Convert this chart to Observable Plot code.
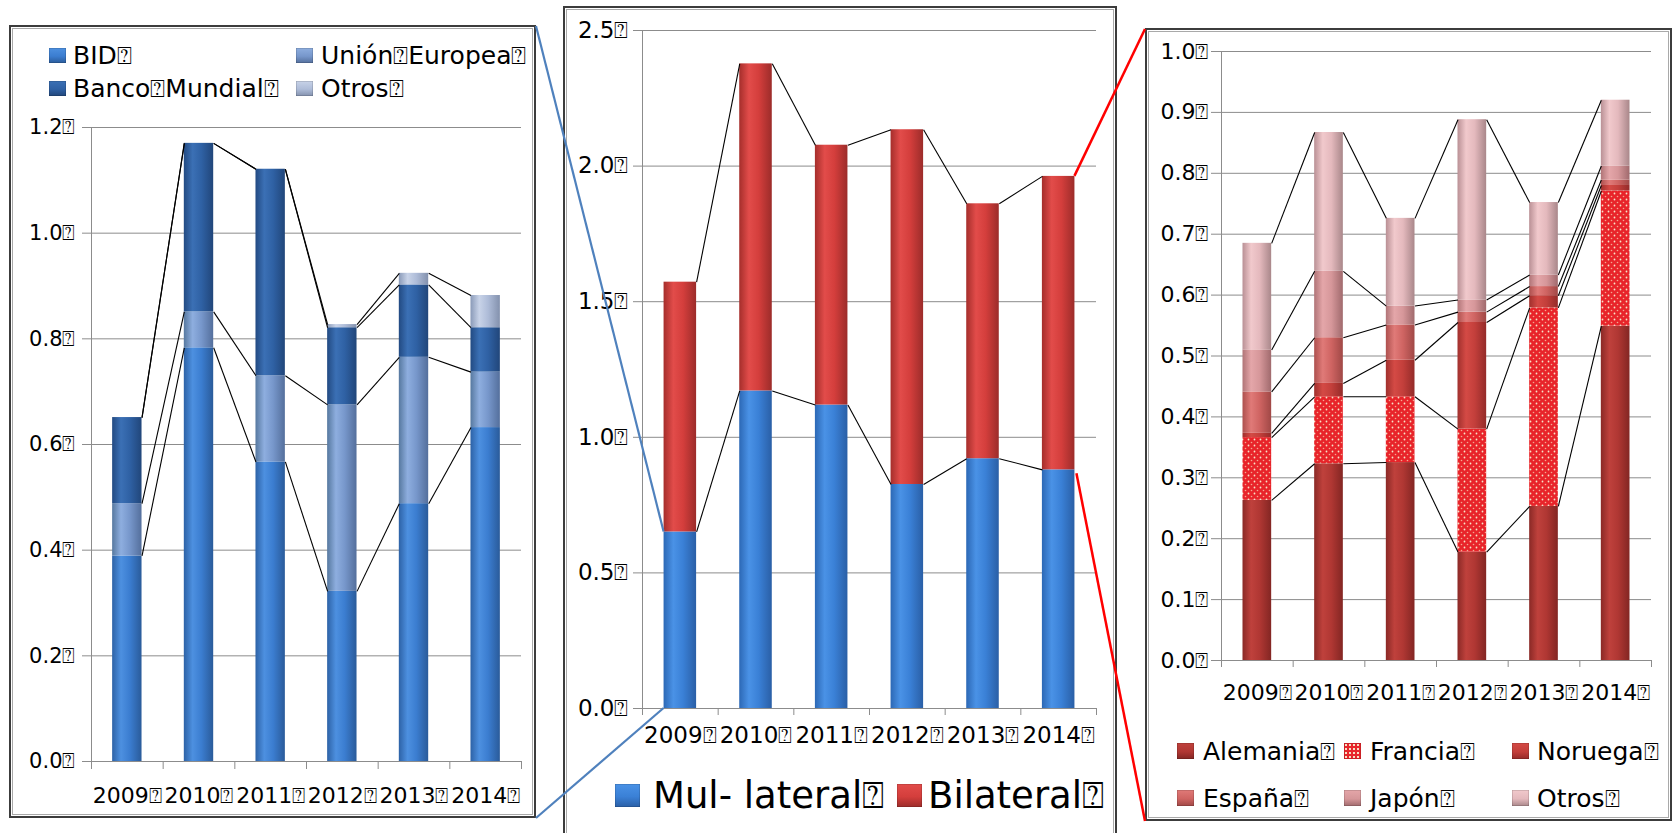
<!DOCTYPE html>
<html>
<head>
<meta charset="utf-8">
<script src="https://cdn.jsdelivr.net/npm/d3@7"></script>
<script src="https://cdn.jsdelivr.net/npm/@observablehq/plot@0.6"></script>
<style>
  body { margin: 0; background: #fff; font-family: 'DejaVu Sans', sans-serif; }
  #page { position: relative; width: 1675px; height: 833px; overflow: hidden; background: #fff; }
  .box { position: absolute; box-sizing: border-box; border: 2px solid #3c3c3c;
         box-shadow: inset 0 0 0 1px #fff, inset 0 0 0 2px #a9a9a9; }
  .abs { position: absolute; }
  .txt { position: absolute; white-space: nowrap; color: #000; font-family: 'DejaVu Sans', sans-serif; }
</style>
</head>
<body>
<div id="page"></div>
<script>
// ---------------- DATA ----------------
const years = [2009, 2010, 2011, 2012, 2013, 2014];
const yearLabels = ["2009⍰", "2010⍰", "2011⍰", "2012⍰", "2013⍰", "2014⍰"];

// Left panel: multilateral by source (bottom -> top)
const multiSeries = ["BID", "Unión Europea", "Banco Mundial", "Otros"];
const multiLegendLabels = ["BID⍰", "Unión⍰Europea⍰", "Banco⍰Mundial⍰", "Otros⍰"];
const bid           = [0.389, 0.783, 0.567, 0.322, 0.488, 0.632];
const unionEuropea  = [0.099, 0.068, 0.163, 0.353, 0.277, 0.105];
const bancoMundial  = [0.163, 0.319, 0.391, 0.146, 0.137, 0.084];
const otrosMulti    = [0.000, 0.000, 0.000, 0.006, 0.022, 0.061];
const leftTicks = [0, 0.2, 0.4, 0.6, 0.8, 1.0, 1.2];

// Middle panel: multilateral vs bilateral
const totalSeries = ["Multilateral", "Bilateral"];
const totalLegendLabels = ["Mul- lateral⍰", "Bilateral⍰"];
const multilateral = [0.651, 1.171, 1.119, 0.826, 0.921, 0.880];
const bilateral    = [0.921, 1.206, 0.958, 1.308, 0.940, 1.082];
const midTicks = [0, 0.5, 1.0, 1.5, 2.0, 2.5];

// Right panel: bilateral by country (bottom -> top)
const bilatSeries = ["Alemania", "Francia", "Noruega", "España", "Japón", "Otros"];
const bilatLegendLabels = ["Alemania⍰", "Francia⍰", "Noruega⍰", "España⍰", "Japón⍰", "Otros⍰"];
const alemania   = [0.263, 0.323, 0.325, 0.178, 0.253, 0.549];
const francia    = [0.103, 0.110, 0.108, 0.202, 0.326, 0.222];
const noruega    = [0.007, 0.022, 0.060, 0.175, 0.020, 0.009];
const espana     = [0.068, 0.075, 0.058, 0.017, 0.015, 0.009];
const japon      = [0.069, 0.109, 0.031, 0.020, 0.019, 0.023];
const otrosBilat = [0.175, 0.228, 0.144, 0.296, 0.119, 0.108];
const rightTicks = [0, 0.1, 0.2, 0.3, 0.4, 0.5, 0.6, 0.7, 0.8, 0.9, 1.0];

// ---------------- STYLE ----------------
const GRID = "#8c8c8c";
const FONT = "'DejaVu Sans', sans-serif";
const grads = {
  gBID: ["#2d62a6", "#4d90e0", "#3b7dd0", "#2a5b9a"],
  gUE:  ["#56789f", "#8eaedf", "#7797cb", "#546f9c"],
  gBM:  ["#224a82", "#3b70b5", "#2f61a4", "#21467a"],
  gOM:  ["#8a9ab8", "#c8d3e8", "#aebcd8", "#8391ad"],
  gMul: ["#2c68b5", "#4a92e6", "#3a80d6", "#2a5fa6"],
  gBil: ["#a52e2b", "#e24c4a", "#d43e3c", "#9c2c2a"],
  gAle: ["#8a2926", "#bf413c", "#b03733", "#832623"],
  gNor: ["#a0302d", "#d44a45", "#c33f3b", "#942b29"],
  gEsp: ["#ad504e", "#e07a78", "#cf6462", "#a04846"],
  gJap: ["#b07477", "#e4a6a9", "#d6979a", "#a06a6d"],
  gOB:  ["#b99095", "#f1c9cc", "#e4b9bd", "#a9878a"]
};
const multiFills = ["url(#gBID)", "url(#gUE)", "url(#gBM)", "url(#gOM)"];
const totalFills = ["url(#gMul)", "url(#gBil)"];
const bilatFills = ["url(#gAle)", "url(#pFra)", "url(#gNor)", "url(#gEsp)", "url(#gJap)", "url(#gOB)"];

function swatchCss(id) {
  if (id === "pFra") return "radial-gradient(circle, #f6e2c6 0.7px, transparent 1.2px) 0 0/4px 4px, #e8262b";
  const c = grads[id];
  return `linear-gradient(to bottom, ${c[1]}, ${c[2]} 55%, ${c[3]})`;
}

// ---------------- HELPERS ----------------
function stackRows(names, arrays, fills) {
  const rows = [], cums = names.map(() => []);
  years.forEach((year, i) => {
    let c = 0;
    names.forEach((s, k) => {
      const v = arrays[k][i];
      rows.push({year, series: s, y1: c, y2: c + v, fill: fills[k]});
      c += v;
      cums[k][i] = c;
    });
  });
  return {rows, cums};
}
function linkRows(cums, hw) {
  const out = [];
  cums.forEach(level => {
    for (let i = 0; i < years.length - 1; i++)
      out.push({x1: years[i] + hw, y1: level[i], x2: years[i + 1] - hw, y2: level[i + 1]});
  });
  return out;
}
function addDefs(svg, ids) {
  const defs = d3.select(svg).insert("defs", ":first-child");
  ids.forEach(id => {
    if (id === "pFra") {
      const p = defs.append("pattern").attr("id", "pFra").attr("patternUnits", "userSpaceOnUse")
        .attr("width", 6).attr("height", 6);
      p.append("rect").attr("width", 6).attr("height", 6).attr("fill", "#e8242a");
      p.append("circle").attr("cx", 1.5).attr("cy", 1.5).attr("r", 0.9).attr("fill", "#f7e4c8");
      p.append("circle").attr("cx", 4.5).attr("cy", 4.5).attr("r", 0.8).attr("fill", "#f3a890");
      return;
    }
    const c = grads[id];
    const g = defs.append("linearGradient").attr("id", id)
      .attr("x1", 0).attr("x2", 1).attr("y1", 0).attr("y2", 0);
    [[0, c[0]], [0.3, c[1]], [0.6, c[2]], [1, c[3]]].forEach(([o, col]) =>
      g.append("stop").attr("offset", o).attr("stop-color", col));
  });
}
const labelOf = new Map(years.map((y, i) => [y, yearLabels[i]]));
const boundaries = d3.range(years.length + 1).map(i => years[0] - 0.5 + i);

function buildPanel(c) {
  return Plot.plot({
    width: c.width, height: c.height,
    marginLeft: c.mL, marginRight: c.mR, marginTop: c.mT, marginBottom: c.mB,
    style: {background: "none", overflow: "visible", fontFamily: FONT, color: "black"},
    x: {type: "linear", domain: [boundaries[0], boundaries[boundaries.length - 1]]},
    y: {domain: [0, c.yMax]},
    color: {type: "identity"},
    marks: [
      Plot.gridY({ticks: c.ticks, stroke: GRID, strokeOpacity: 1}),
      Plot.rectY(c.rows, {x1: d => d.year - c.hw, x2: d => d.year + c.hw, y1: "y1", y2: "y2", fill: d => d.fill}),
      Plot.link(c.links, {x1: "x1", y1: "y1", x2: "x2", y2: "y2", stroke: "#000", strokeWidth: 1.1}),
      Plot.ruleX([boundaries[0]], {stroke: GRID}),
      Plot.ruleY([0], {stroke: GRID}),
      Plot.axisY({ticks: c.ticks, tickSize: c.ySize, tickPadding: c.yPad, tickFormat: d => d.toFixed(1) + "⍰",
                  stroke: GRID, fill: "black", fontSize: c.yFont, label: null}),
      Plot.axisX({ticks: boundaries, tickSize: c.xTick, tickFormat: () => "", stroke: GRID, label: null}),
      Plot.axisX({ticks: years, tickSize: 0, tickPadding: c.xPad, tickFormat: d => labelOf.get(d),
                  fill: "black", fontSize: c.xFont, label: null})
    ]
  });
}

const page = document.getElementById("page");
function place(el, left, top) {
  const d = document.createElement("div");
  d.className = "abs"; d.style.left = left + "px"; d.style.top = top + "px";
  d.appendChild(el); page.appendChild(d); return d;
}
function box(left, top, w, h) {
  const d = document.createElement("div");
  d.className = "box";
  Object.assign(d.style, {left: left + "px", top: top + "px", width: w + "px", height: h + "px"});
  page.appendChild(d);
}
function legendItem(sx, tx, yc, label, swId, font, sw, sh) {
  const s = document.createElement("div");
  s.className = "abs";
  Object.assign(s.style, {left: sx + "px", top: (yc - sh / 2) + "px", width: sw + "px", height: sh + "px",
    background: swatchCss(swId), boxShadow: "inset 0 0 0 0.5px rgba(0,0,0,0.25)"});
  page.appendChild(s);
  const t = document.createElement("div");
  t.className = "txt";
  Object.assign(t.style, {left: tx + "px", top: (yc - 0.5 * font) + "px", fontSize: font + "px", lineHeight: font + "px"});
  t.textContent = label;
  page.appendChild(t);
}

// ---------------- BOXES ----------------
box(9, 25, 527, 793);
box(563, 6, 554, 900);
box(1145, 28, 527, 793);

// ---------------- LEFT PANEL ----------------
const hwL = 0.205;
const L = stackRows(multiSeries, [bid, unionEuropea, bancoMundial, otrosMulti], multiFills);
const leftSvg = buildPanel({
  width: 527, height: 718, mL: 82, mR: 15, mT: 27, mB: 57,
  yMax: 1.2, ticks: leftTicks, rows: L.rows, links: linkRows(L.cums, hwL), hw: hwL,
  ySize: 9, yPad: 7, yFont: 21, xTick: 8, xPad: 26, xFont: 22
});
addDefs(leftSvg, ["gBID", "gUE", "gBM", "gOM"]);
place(leftSvg, 9, 100);
const leftLegendPos = [[49, 73, 55], [296, 321, 55], [49, 73, 88], [296, 321, 88]];
multiSeries.forEach((s, k) => {
  const [sx, tx, yc] = leftLegendPos[k];
  legendItem(sx, tx, yc, multiLegendLabels[k], ["gBID", "gUE", "gBM", "gOM"][k], 25, 17, 15);
});

// ---------------- MIDDLE PANEL ----------------
const hwM = 0.215;
const M = stackRows(totalSeries, [multilateral, bilateral], totalFills);
const midSvg = buildPanel({
  width: 554, height: 770, mL: 79, mR: 21, mT: 30, mB: 62,
  yMax: 2.5, ticks: midTicks, rows: M.rows, links: linkRows(M.cums, hwM), hw: hwM,
  ySize: 9, yPad: 5, yFont: 23, xTick: 7, xPad: 18, xFont: 23
});
addDefs(midSvg, ["gMul", "gBil"]);
place(midSvg, 563, 0);
legendItem(615, 653, 795, totalLegendLabels[0], "gMul", 37, 25, 23);
legendItem(897, 928, 795, totalLegendLabels[1], "gBil", 37, 25, 23);

// ---------------- RIGHT PANEL ----------------
const hwR = 0.2;
const R = stackRows(bilatSeries, [alemania, francia, noruega, espana, japon, otrosBilat], bilatFills);
const rightSvg = buildPanel({
  width: 527, height: 690, mL: 76, mR: 21, mT: 21, mB: 60,
  yMax: 1.0, ticks: rightTicks, rows: R.rows, links: linkRows(R.cums, hwR), hw: hwR,
  ySize: 10, yPad: 3, yFont: 22, xTick: 7, xPad: 24, xFont: 22
});
addDefs(rightSvg, ["gAle", "pFra", "gNor", "gEsp", "gJap", "gOB"]);
place(rightSvg, 1145, 30);
const rightSw = ["gAle", "pFra", "gNor", "gEsp", "gJap", "gOB"];
const rightCols = [[1177, 1203], [1344, 1370], [1512, 1537]];
bilatSeries.forEach((s, k) => {
  const [sx, tx] = rightCols[k % 3];
  const yc = k < 3 ? 751 : 798;
  legendItem(sx, tx, yc, bilatLegendLabels[k], rightSw[k], 25, 17, 16);
});

// ---------------- CONNECTORS (from the middle panel's scales) ----------------
const mx = midSvg.scale("x"), my = midSvg.scale("y");
const midLeft = 563, midTop = 0;
const barL = midLeft + mx.apply(years[0] - hwM);
const barR = midLeft + mx.apply(years[years.length - 1] + hwM);
const last = years.length - 1;
const ov = d3.select(page).append("svg")
  .attr("width", 1675).attr("height", 833)
  .style("position", "absolute").style("left", 0).style("top", 0).style("pointer-events", "none");
ov.append("line").attr("x1", 536).attr("y1", 26).attr("x2", barL).attr("y2", midTop + my.apply(multilateral[0]))
  .attr("stroke", "#4f81bd").attr("stroke-width", 2.2);
ov.append("line").attr("x1", 536).attr("y1", 818).attr("x2", barL).attr("y2", midTop + my.apply(0))
  .attr("stroke", "#4f81bd").attr("stroke-width", 2.2);
ov.append("line").attr("x1", barR).attr("y1", midTop + my.apply(multilateral[last] + bilateral[last]))
  .attr("x2", 1145).attr("y2", 29).attr("stroke", "#ff0000").attr("stroke-width", 2.5);
ov.append("line").attr("x1", barR + 2).attr("y1", midTop + my.apply(multilateral[last]) + 4)
  .attr("x2", 1145).attr("y2", 821).attr("stroke", "#ff0000").attr("stroke-width", 2.5);
</script>
</body>
</html>
